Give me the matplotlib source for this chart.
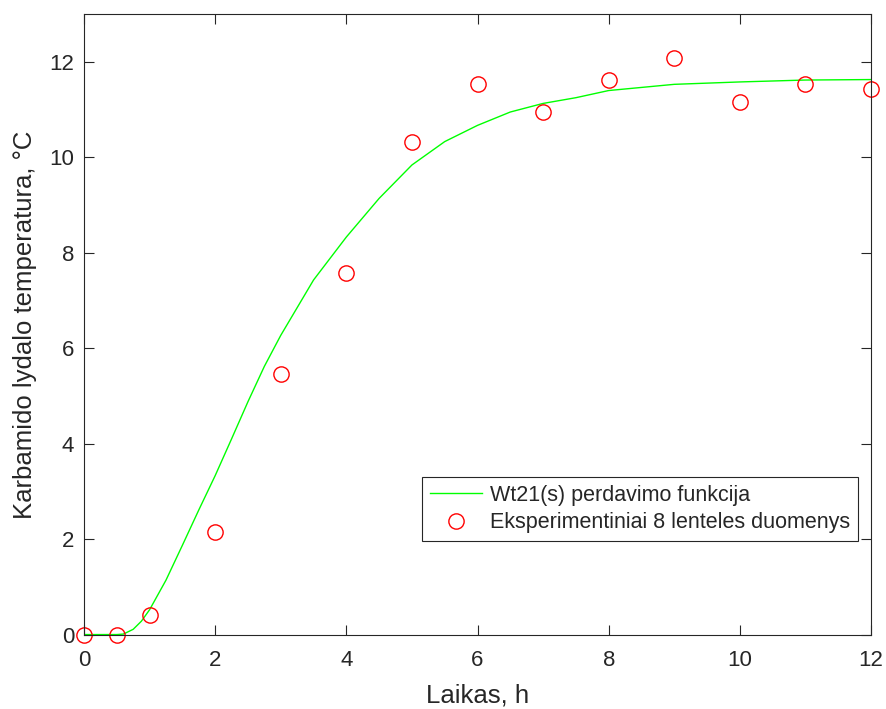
import matplotlib
matplotlib.use("Agg")
import matplotlib.pyplot as plt

plt.rcParams['font.family'] = ['Liberation Sans', 'DejaVu Sans']

# eksperimentiniai duomenys (8 lentele)
t_exp = [0, 0.5, 1, 2, 3, 4, 5, 6, 7, 8, 9, 10, 11, 12]
T_exp = [0, 0, 0.42, 2.14, 5.45, 7.58, 10.32, 11.53, 10.96, 11.63, 12.08, 11.16, 11.53, 11.43]

# Wt21(s) perdavimo funkcijos kreive (nuskaityta is grafiko)
t_mod = [0, 0.5, 0.6, 0.75, 0.875, 1.0, 1.25, 1.5, 1.75, 2.0, 2.25, 2.5, 2.75, 3.0,
         3.5, 4.0, 4.5, 5.0, 5.5, 6.0, 6.5, 7.0, 7.5, 8.0, 9.0, 10.0, 11.0, 12.0]
T_mod = [0, 0, 0.01, 0.11, 0.28, 0.52, 1.14, 1.87, 2.61, 3.33, 4.1, 4.88, 5.62, 6.27,
         7.43, 8.33, 9.14, 9.84, 10.33, 10.67, 10.95, 11.13, 11.25, 11.4, 11.53, 11.58, 11.62, 11.63]

xticks = [0, 2, 4, 6, 8, 10, 12]
yticks = [0, 2, 4, 6, 8, 10, 12]

txt = '#262626'
fig = plt.figure(figsize=(8.87, 7.09), dpi=100)
ax = fig.add_axes([0.0947, 0.105, 0.8873, 0.875])

ax.plot(t_mod, T_mod, color=(0, 1, 0), lw=1.0, label='Wt21(s) perdavimo funkcija')
ax.plot(t_exp, T_exp, 'o', mfc='none', mec=(1, 0, 0), ms=11, mew=1.0,
        label='Eksperimentiniai 8 lenteles duomenys', clip_on=False)

ax.set_xlim(0, 12)
ax.set_ylim(0, 13)
ax.set_xticks(xticks)
ax.set_yticks(yticks)
ax.tick_params(direction='in', length=7, width=0.8, top=True, right=True,
               labelsize=16, colors=txt)
ax.tick_params(axis='x', pad=11)
ax.tick_params(axis='y', pad=7)
for s in ax.spines.values():
    s.set_color(txt)
    s.set_linewidth(0.8)

ax.set_xlabel('Laikas, h', fontsize=18.5, color=txt, labelpad=9)
ax.set_ylabel('Karbamido lydalo temperatura, °C', fontsize=18.5, color=txt, labelpad=9)

leg = ax.legend(loc='lower right', bbox_to_anchor=(0.983, 0.151), borderaxespad=0,
                fontsize=15.5, fancybox=False, framealpha=1, edgecolor=txt,
                handlelength=2.45, handletextpad=0.35, borderpad=0.35, labelspacing=0.3)
leg.get_frame().set_linewidth(0.8)
for t in leg.get_texts():
    t.set_color(txt)

fig.savefig('out.png', dpi=100)
